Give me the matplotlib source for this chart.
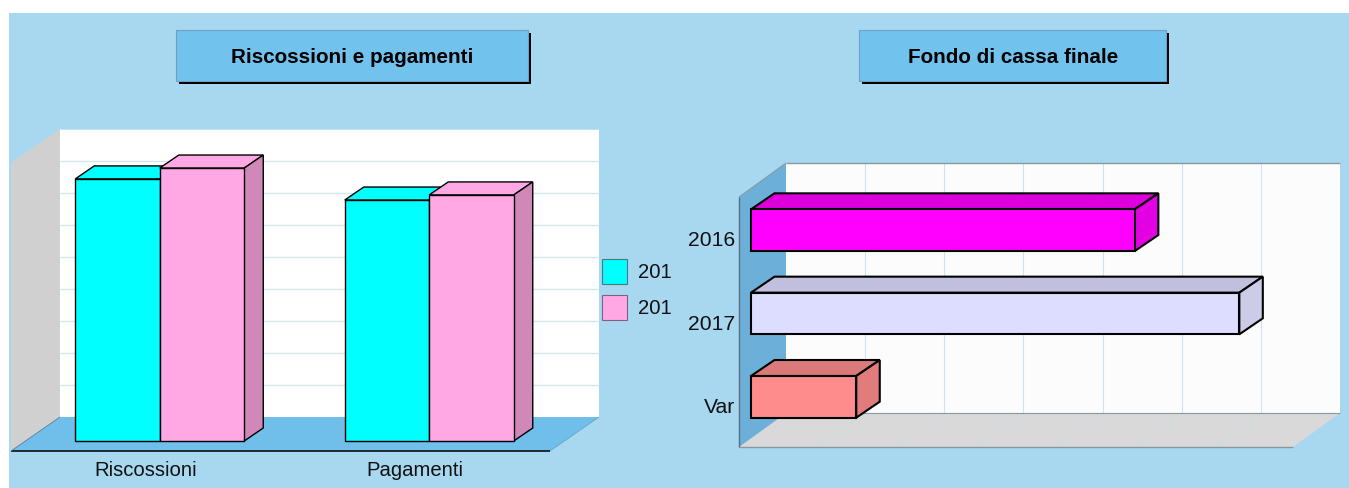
import matplotlib
matplotlib.use("Agg")
import matplotlib.pyplot as plt
import numpy as np
from matplotlib.patches import Rectangle, Polygon, Patch
from matplotlib.transforms import Affine2D, IdentityTransform

plt.rcParams['font.family'] = ['Liberation Sans', 'DejaVu Sans']

# ---------- data (no scale is printed in the source: values are in gridline units)
left_categories = ["Riscossioni", "Pagamenti"]
left_series_labels = ["201", "201"]
left_values_a = [8.19, 7.53]
left_values_b = [8.53, 7.69]
right_categories = ["2016", "2017", "Var"]
right_values = [4.85, 6.17, 1.33]

W, H = 1349, 488
fig = plt.figure(figsize=(W / 100, H / 100), dpi=100, facecolor="white")
LABEL_FS = 14.6


def axes_px(x0, y0, x1, y1, **kw):
    """Axes from pixel box, y measured from image top."""
    return fig.add_axes([x0 / W, 1 - y1 / H, (x1 - x0) / W, (y1 - y0) / H], **kw)


BG = "#A8D8F0"
# decoration layer in pixel coordinates
deco = axes_px(0, 0, W, H, zorder=0)
deco.set_xlim(0, W)
deco.set_ylim(H, 0)
deco.axis("off")
deco.add_patch(Rectangle((9, 13), W - 9, H - 13, fc=BG, ec="none"))


def title_box(x0, x1, text):
    deco.add_patch(Rectangle((x0 + 3, 33), x1 - x0, 50.5, fc="black", ec="none"))
    deco.add_patch(Rectangle((x0, 30), x1 - x0, 50.5, fc="#72C2EE", ec="#6FA0C4", lw=0.8))
    deco.text((x0 + x1) / 2 + 0.5, 57.5, text, ha="center", va="center",
              fontsize=14.85, fontweight="bold", color="black")


title_box(176, 528, "Riscossioni e pagamenti")
title_box(859, 1166, "Fondo di cassa finale")


def shifted(ax, pts, dx=0, dy=0):
    """Data points -> display pixels, moved by a depth offset (dy up-positive)."""
    p = ax.transData.transform(pts)
    p[:, 0] += dx
    p[:, 1] += dy
    return p


def face(ax, corners, fc, ec="none", lw=0, z=2):
    ax.add_patch(Polygon(corners, closed=True, fc=fc, ec=ec, lw=lw, joinstyle="miter",
                         transform=IdentityTransform(), clip_on=False, zorder=z))


def line(ax, pts, color, lw, z=1.5):
    pts = np.asarray(pts)
    ax.plot(pts[:, 0], pts[:, 1], color=color, lw=lw, transform=IdentityTransform(),
            clip_on=False, zorder=z, solid_capstyle="butt")


def box(ax, x0, x1, y0, y1, dx, dy, front, top, side, lw, z):
    """3-D box whose front face is x0..x1, y0..y1 in data units."""
    fr = shifted(ax, [(x0, y0), (x1, y0), (x1, y1), (x0, y1)])
    face(ax, [fr[3], fr[2], fr[2] + (dx, dy), fr[3] + (dx, dy)], top, "black", lw, z)
    face(ax, [fr[1], fr[1] + (dx, dy), fr[2] + (dx, dy), fr[2]], side, "black", lw, z)
    ax.add_patch(Rectangle((x0, y0), x1 - x0, y1 - y0, fc=front, ec="black", lw=lw,
                           clip_on=False, zorder=z, joinstyle="miter"))


# ---------- left chart: axes are the plane of the bars' front faces
GRID_L = "#CFE6EE"
axl = axes_px(25, 153, 564, 441, zorder=1)
axl.set_xlim(-0.5, 1.5)
axl.set_ylim(0, 9)
axl.patch.set_visible(False)
for s in axl.spines.values():
    s.set_visible(False)

WX, WY = 35, 24      # plane -> back wall
FX, FY = -14, -10    # plane -> front edge
plane_l = [(-0.5, 0), (1.5, 0), (1.5, 9), (-0.5, 9)]
back = shifted(axl, plane_l, WX, WY)
frnt = shifted(axl, plane_l, FX, FY)
face(axl, back, "white", z=0.5)
face(axl, [frnt[0], back[0], back[3], frnt[3]], "#D0D0D0", z=0.6)
face(axl, [frnt[0], frnt[1], back[1], back[0]], "#70BFEB", z=0.7)
for g in range(1, 9):
    line(axl, shifted(axl, [(-0.5, g), (1.5, g)], WX, WY), GRID_L, 0.9, z=0.65)
line(axl, [back[3], back[2]], "#BFE3EE", 0.8, z=0.65)
line(axl, [frnt[0], frnt[1]], "black", 1.1, z=0.9)
line(axl, [frnt[0], back[0]], "#5F7F90", 0.6, z=0.9)
line(axl, [frnt[1], back[1]], "#5F9FC0", 0.5, z=0.9)

BW = 84.5 / 269.5
L_DEPTH = (19, 13)
L_COLORS = [("#00FFFF", "#00FFFF", "#00E0E0"), ("#FFA8E3", "#FFA8E3", "#CF88B8")]
for i in range(len(left_categories)):
    box(axl, i - BW, i, 0, left_values_a[i], *L_DEPTH, *L_COLORS[0], 1.0, 3 + i)
    box(axl, i, i + BW, 0, left_values_b[i], *L_DEPTH, *L_COLORS[1], 1.0, 3.5 + i)

axl.set_yticks([])
axl.set_xticks(range(len(left_categories)), left_categories)
axl.tick_params(axis="x", length=0, pad=0, labelsize=LABEL_FS, labelcolor="#111111")
for lab in axl.get_xticklabels():
    lab.set_transform(lab.get_transform() + Affine2D().translate(FX, -20))

handles = [Patch(fc=L_COLORS[0][0], ec="#4A7A80", lw=0.8),
           Patch(fc=L_COLORS[1][0], ec="#806080", lw=0.8)]
axl.legend(handles, left_series_labels, loc="center left", frameon=False,
           bbox_to_anchor=(602 / W, 1 - 289.5 / H), bbox_transform=fig.transFigure,
           borderpad=0, borderaxespad=0, fontsize=LABEL_FS, handlelength=1.23, handleheight=1.51,
           labelspacing=0.55, handletextpad=0.55, labelcolor="#111111")

# ---------- right chart
axr = axes_px(751, 188.5, 1305, 438.5, zorder=1)
axr.set_xlim(0, 7)
axr.set_ylim(2.5, -0.5)
axr.patch.set_visible(False)
for s in axr.spines.values():
    s.set_visible(False)

RWX, RWY = 35, 25.5
RFX, RFY = -12, -8.5
corners = [(0, 2.5), (7, 2.5), (7, -0.5), (0, -0.5)]
rback = shifted(axr, corners, RWX, RWY)
rfrnt = shifted(axr, corners, RFX, RFY)
face(axr, rback, "#FCFCFC", z=0.5)
face(axr, [rfrnt[0], rfrnt[1], rback[1], rback[0]], "#D9D9D9", z=0.6)
face(axr, [rfrnt[0], rback[0], rback[3], rfrnt[3]], "#6CAFD8", z=0.7)
for g in range(1, 7):
    bp = shifted(axr, [(g, 2.5), (g, -0.5)], RWX, RWY)
    line(axr, bp, "#CDE5EE", 0.8, z=0.55)
    fp = shifted(axr, [(g, 2.5)], RFX, RFY)
    line(axr, [fp[0], bp[0]], "#CBDDE3", 0.6, z=0.65)
GE = "#88989F"
line(axr, [rback[3], rback[2]], GE, 1.0, z=0.8)
line(axr, [rback[0], rback[1]], GE, 0.8, z=0.8)
line(axr, [rfrnt[0], rfrnt[1]], GE, 1.0, z=0.8)
line(axr, [rfrnt[3], rfrnt[0]], "#5A7080", 1.0, z=0.8)
line(axr, [rfrnt[3], rback[3]], GE, 0.7, z=0.8)

R_DEPTH = (23.5, 16)
R_COLORS = [("#FF00FF", "#DD00DD", "#E300E3"),
            ("#DDDDFF", "#C0C0DE", "#CCCCE8"),
            ("#FF8C8C", "#DB7A7A", "#E07C7C")]
for i, v in enumerate(right_values):
    box(axr, 0, v, i + 0.25, i - 0.25, *R_DEPTH, *R_COLORS[i], 1.5, 3 + i)

axr.set_xticks([])
axr.set_yticks(range(len(right_categories)), right_categories)
axr.tick_params(axis="y", length=0, pad=0, labelsize=15.2, labelcolor="#111111")
for lab in axr.get_yticklabels():
    lab.set_transform(lab.get_transform() + Affine2D().translate(-16, RFY))

fig.savefig("out.png", dpi=100, facecolor="white")
